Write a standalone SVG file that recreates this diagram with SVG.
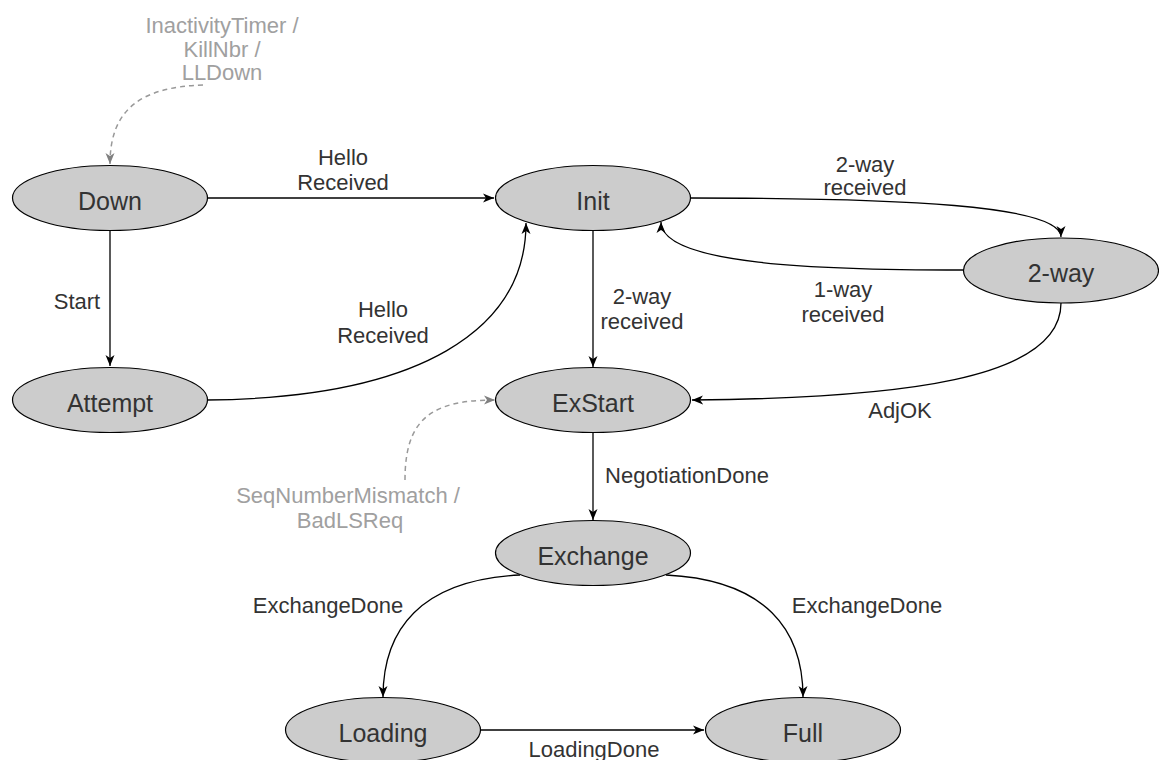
<svg xmlns="http://www.w3.org/2000/svg" width="1159" height="760" viewBox="0 0 1159 760">
<style>
.node ellipse{fill:#CCCCCC;stroke:#000;stroke-width:1.2}
.node text{font-family:"Liberation Sans",Arial,sans-serif;font-size:25px;fill:#333;text-anchor:middle}
.edge{fill:none;stroke:#000;stroke-width:1.3}
.dash{fill:none;stroke:#999;stroke-width:1.5;stroke-dasharray:5 4}
.lbl{font-family:"Liberation Sans",Arial,sans-serif;font-size:22px;fill:#333;text-anchor:middle}
.glbl{font-family:"Liberation Sans",Arial,sans-serif;font-size:22px;fill:#A0A0A0;text-anchor:middle}
</style>
<defs>
<marker id="arr" viewBox="0 0 12 10" refX="11" refY="5" markerWidth="12" markerHeight="10" markerUnits="userSpaceOnUse" orient="auto">
<path d="M0,0.5 L11,5 L0,9.5 L3,5 z" fill="#000"/>
</marker>
<marker id="garr" viewBox="0 0 12 10" refX="11" refY="5" markerWidth="12" markerHeight="10" markerUnits="userSpaceOnUse" orient="auto">
<path d="M0,0.5 L11,5 L0,9.5 L3,5 z" fill="#808080"/>
</marker>
</defs>
<rect width="1159" height="760" fill="#fff"/>
<g id="connectors">
<path class="edge" d="M207,198 L494,198" marker-end="url(#arr)"/>
<path class="edge" d="M110,230 L110,366" marker-end="url(#arr)"/>
<path class="edge" d="M207,400 C420,398 526,330 526,223" marker-end="url(#arr)"/>
<path class="edge" d="M690,198 C900,198 1061,205 1061,237" marker-end="url(#arr)"/>
<path class="edge" d="M963,270 C820,270 661,265 661,222" marker-end="url(#arr)"/>
<path class="edge" d="M1061,303 C1061,380 900,398 692,400" marker-end="url(#arr)"/>
<path class="edge" d="M593,230 L593,367" marker-end="url(#arr)"/>
<path class="edge" d="M593,432 L593,520" marker-end="url(#arr)"/>
<path class="edge" d="M520,575 C420,580 383,630 383,697" marker-end="url(#arr)"/>
<path class="edge" d="M666,575 C766,580 803,630 803,697" marker-end="url(#arr)"/>
<path class="edge" d="M480,730 L704,730" marker-end="url(#arr)"/>
<path class="dash" d="M203,85 C140,87 110,110 110,164" marker-end="url(#garr)"/>
<path class="dash" d="M405,480 C405,420 430,400 495,400" marker-end="url(#garr)"/>
<text class="lbl" x="343" y="165">Hello</text>
<text class="lbl" x="343" y="190">Received</text>
<text class="lbl" x="77" y="309">Start</text>
<text class="lbl" x="383" y="317">Hello</text>
<text class="lbl" x="383" y="343">Received</text>
<text class="lbl" x="865" y="172">2-way</text>
<text class="lbl" x="865" y="195">received</text>
<text class="lbl" x="843" y="297">1-way</text>
<text class="lbl" x="843" y="322">received</text>
<text class="lbl" x="642" y="304">2-way</text>
<text class="lbl" x="642" y="329">received</text>
<text class="lbl" x="900" y="418">AdjOK</text>
<text class="lbl" x="687" y="483">NegotiationDone</text>
<text class="lbl" x="328" y="613">ExchangeDone</text>
<text class="lbl" x="867" y="613">ExchangeDone</text>
<text class="lbl" x="594" y="757">LoadingDone</text>
<text class="glbl" x="222" y="33">InactivityTimer /</text>
<text class="glbl" x="222" y="57">KillNbr /</text>
<text class="glbl" x="222" y="80">LLDown</text>
<text class="glbl" x="348" y="503">SeqNumberMismatch /</text>
<text class="glbl" x="350" y="528">BadLSReq</text>
</g>
<g id="down" class="node"><ellipse cx="110" cy="198" rx="97.5" ry="32.5"/><text x="110" y="210">Down</text></g>
<g id="init" class="node"><ellipse cx="593" cy="198" rx="97.5" ry="32.5"/><text x="593" y="210">Init</text></g>
<g id="twoway" class="node"><ellipse cx="1061" cy="270.5" rx="97.5" ry="32.5"/><text x="1061" y="282">2-way</text></g>
<g id="attempt" class="node"><ellipse cx="110" cy="400" rx="97.5" ry="32.5"/><text x="110" y="412">Attempt</text></g>
<g id="exstart" class="node"><ellipse cx="593" cy="400" rx="97.5" ry="32.5"/><text x="593" y="412">ExStart</text></g>
<g id="exchange" class="node"><ellipse cx="593" cy="553" rx="97.5" ry="32.5"/><text x="593" y="565">Exchange</text></g>
<g id="loading" class="node"><ellipse cx="383" cy="730" rx="97.5" ry="32.5"/><text x="383" y="742">Loading</text></g>
<g id="full" class="node"><ellipse cx="803" cy="730" rx="97.5" ry="32.5"/><text x="803" y="742">Full</text></g>
</svg>
